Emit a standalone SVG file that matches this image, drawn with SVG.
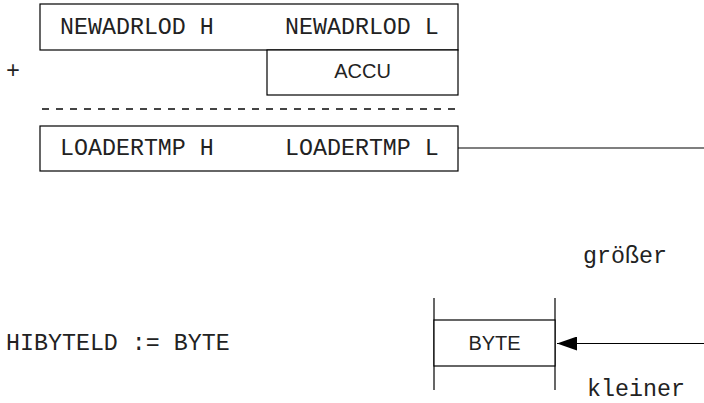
<svg xmlns="http://www.w3.org/2000/svg" width="704" height="403" viewBox="0 0 704 403">
  <style>
    .box { fill: #ffffff; stroke: #000000; stroke-width: 1.2; }
    .mono { font-family: "Liberation Mono", "DejaVu Sans Mono", monospace; font-size: 23.3px; fill: #222222; }
    .sans { font-family: "Liberation Sans", Arial, sans-serif; font-size: 20px; fill: #222222; text-anchor: middle; }
    .wire { stroke: #000000; stroke-width: 1.2; fill: none; }
  </style>
  <defs>
    <marker id="arrowhead" markerWidth="20" markerHeight="14" refX="20" refY="7" orient="auto" markerUnits="userSpaceOnUse">
      <path d="M0,0 L20,7 L0,14 Z" fill="#000000"/>
    </marker>
  </defs>
  <rect width="704" height="403" fill="#ffffff"/>

  <!-- 16-bit addition: NEWADRLOD + ACCU = LOADERTMP -->
  <g id="newadrlod">
    <rect class="box" x="40" y="4" width="418" height="46"/>
    <text class="mono" x="60" y="34">NEWADRLOD H</text>
    <text class="mono" x="285" y="34">NEWADRLOD L</text>
  </g>
  <g id="plus">
    <text class="mono" x="6" y="78">+</text>
  </g>
  <g id="accu">
    <rect class="box" x="267" y="50" width="191" height="45"/>
    <text class="sans" x="362.5" y="78">ACCU</text>
  </g>
  <g id="sum-rule">
    <line x1="42" y1="109" x2="456" y2="109" stroke="#444444" stroke-width="2" stroke-dasharray="7 7"/>
  </g>
  <g id="loadertmp">
    <rect class="box" x="40" y="126" width="418" height="45"/>
    <text class="mono" x="60" y="155">LOADERTMP H</text>
    <text class="mono" x="285" y="155">LOADERTMP L</text>
  </g>

  <!-- comparison result -->
  <g id="label-groesser">
    <text class="mono" x="583" y="263">größer</text>
  </g>
  <g id="label-kleiner">
    <text class="mono" x="587" y="396">kleiner</text>
  </g>
  <g id="hibyteld">
    <text class="mono" x="6" y="350">HIBYTELD := BYTE</text>
  </g>
  <g id="byte">
    <line class="wire" x1="434" y1="298" x2="434" y2="390"/>
    <line class="wire" x1="555" y1="298" x2="555" y2="390"/>
    <rect class="box" x="434" y="320" width="121" height="46"/>
    <text class="sans" x="494.5" y="350">BYTE</text>
  </g>

  <g id="connectors">
    <line class="wire" x1="458" y1="148" x2="704" y2="148"/>
    <line class="wire" x1="704" y1="343.5" x2="557" y2="343.5" marker-end="url(#arrowhead)"/>
  </g>
</svg>
